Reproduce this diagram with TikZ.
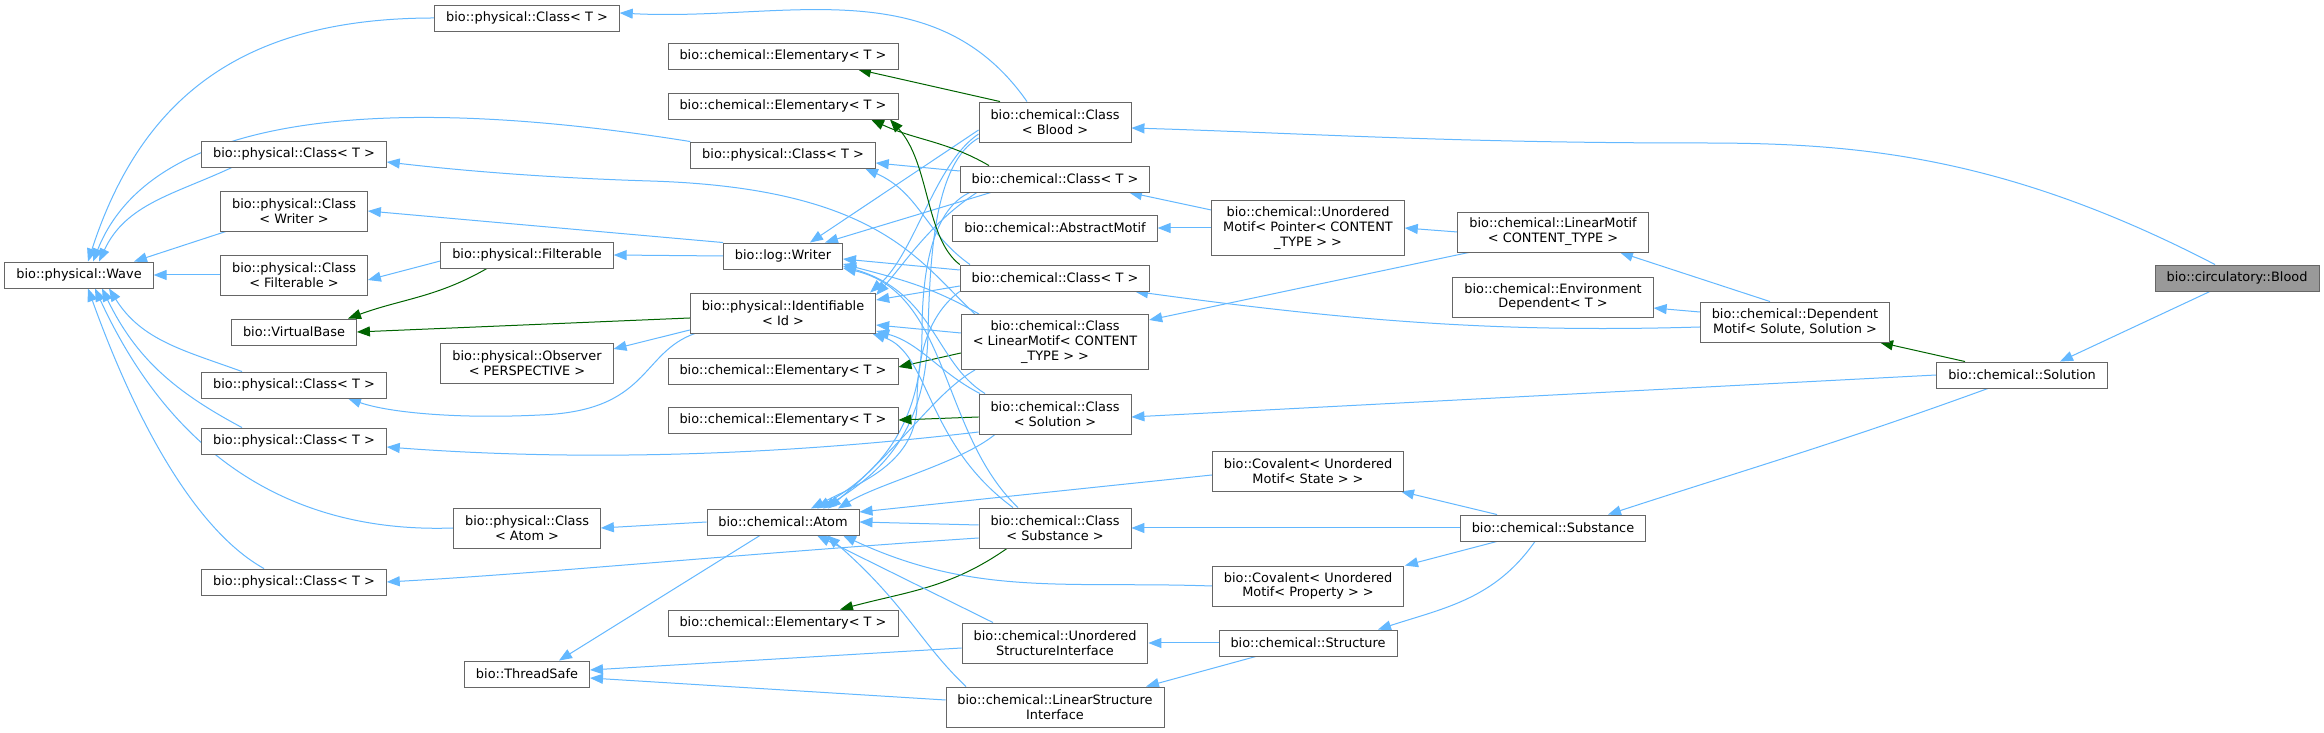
\documentclass[tikz,border=0pt]{standalone}
\usepackage{fontspec}
\setmainfont{DejaVu Sans}
\usetikzlibrary{arrows.meta,backgrounds}
\definecolor{edgeblue}{HTML}{63B8FF}
\definecolor{edgegreen}{HTML}{006400}
\definecolor{boxgray}{HTML}{666666}
\definecolor{focusgray}{HTML}{999999}
\tikzset{
  cls/.style={draw=boxgray, line width=0.9pt, fill=white, align=center,
    inner xsep=11.5pt, inner ysep=2pt, minimum height=26pt,
    font=\fontsize{12.9}{14.8}\selectfont},
  cls2/.style={cls, minimum height=40pt},
  cls3/.style={cls, minimum height=55pt},
  focus/.style={cls, fill=focusgray},
  pub/.style={draw=edgeblue, line width=1pt, -{Triangle[length=13pt,width=10pt]}},
  prot/.style={pub, draw=edgegreen},
}
\begin{document}
\begin{tikzpicture}[x=1pt,y=1pt]
\useasboundingbox (0,0) rectangle (2324,733);
\node [cls] (wave) at (79,458) {bio::physical::Wave};
\node [cls] (pcone) at (527,715) {bio::physical::Class< T >};
\node [cls] (pctwo) at (294,579) {bio::physical::Class< T >};
\node [cls2] (pcwriter) at (294,522) {bio::physical::Class\\< Writer >};
\node [cls2] (pcfilt) at (294,458) {bio::physical::Class\\< Filterable >};
\node [cls] (vbase) at (294,401) {bio::VirtualBase};
\node [cls] (pcthree) at (294,348) {bio::physical::Class< T >};
\node [cls] (pcfour) at (294,292) {bio::physical::Class< T >};
\node [cls] (pcsix) at (294,151) {bio::physical::Class< T >};
\node [cls] (filt) at (527,478) {bio::physical::Filterable};
\node [cls2] (observer) at (527,370) {bio::physical::Observer\\< PERSPECTIVE >};
\node [cls2] (pcatom) at (527,205) {bio::physical::Class\\< Atom >};
\node [cls] (tsafe) at (527,59) {bio::ThreadSafe};
\node [cls] (elemone) at (783,677) {bio::chemical::Elementary< T >};
\node [cls] (elemtwo) at (783,627) {bio::chemical::Elementary< T >};
\node [cls] (pcfive) at (783,578) {bio::physical::Class< T >};
\node [cls] (writer) at (783,477) {bio::log::Writer};
\node [cls2] (ident) at (783,420) {bio::physical::Identifiable\\< Id >};
\node [cls] (elemthree) at (783,362) {bio::chemical::Elementary< T >};
\node [cls] (elemfour) at (783,313) {bio::chemical::Elementary< T >};
\node [cls] (atom) at (783,211) {bio::chemical::Atom};
\node [cls] (elemfive) at (783,110) {bio::chemical::Elementary< T >};
\node [cls2] (clblood) at (1055,611) {bio::chemical::Class\\< Blood >};
\node [cls] (clone) at (1055,554) {bio::chemical::Class< T >};
\node [cls] (amotif) at (1055,505) {bio::chemical::AbstractMotif};
\node [cls] (cltwo) at (1055,455) {bio::chemical::Class< T >};
\node [cls3] (cllin) at (1055,391) {bio::chemical::Class\\< LinearMotif< CONTENT\\\_TYPE > >};
\node [cls2] (clsol) at (1055,319) {bio::chemical::Class\\< Solution >};
\node [cls2] (clsub) at (1055,205) {bio::chemical::Class\\< Substance >};
\node [cls2] (usi) at (1055,90) {bio::chemical::Unordered\\StructureInterface};
\node [cls2] (lsi) at (1055,26) {bio::chemical::LinearStructure\\Interface};
\node [cls3] (umotif) at (1308,505) {bio::chemical::Unordered\\Motif< Pointer< CONTENT\\\_TYPE > >};
\node [cls2] (covstate) at (1308,262) {bio::Covalent< Unordered\\Motif< State > >};
\node [cls2] (covprop) at (1308,147) {bio::Covalent< Unordered\\Motif< Property > >};
\node [cls] (strc) at (1308,90) {bio::chemical::Structure};
\node [cls2] (lmotif) at (1553,501) {bio::chemical::LinearMotif\\< CONTENT\_TYPE >};
\node [cls2] (envdep) at (1553,436) {bio::chemical::Environment\\Dependent< T >};
\node [cls] (subst) at (1553,205) {bio::chemical::Substance};
\node [cls2] (depmotif) at (1795,411) {bio::chemical::Dependent\\Motif< Solute, Solution >};
\node [cls] (solution) at (2022,358) {bio::chemical::Solution};
\node [focus] (blood) at (2237,455) {bio::circulatory::Blood};
\begin{pgfonlayer}{background}
\fill [white] (0,0) rectangle (2324,733);
\draw [pub] (pcone.west) to[out=180,in=72,looseness=1.1] ([xshift=9pt]wave.north);
\draw [pub] (pcfive.north west) .. controls (450,630) and (160,640) .. ([xshift=14pt]wave.north);
\draw [pub] ([xshift=-62pt]pctwo.south) to[out=-155,in=65] ([xshift=20pt]wave.north);
\draw [pub] ([xshift=-68pt]pcwriter.south) -- ([xshift=55pt]wave.north);
\draw [pub] (pcfilt.west) -- (wave.east);
\draw [pub] ([xshift=-52pt]pcthree.north) to[out=160,in=-58] ([xshift=30pt]wave.south);
\draw [pub] ([xshift=-52pt]pcfour.north) to[out=152,in=-64] ([xshift=23pt]wave.south);
\draw [pub] (pcatom.west) .. controls (310,200) and (180,260) .. ([xshift=16pt]wave.south);
\draw [pub] ([xshift=-30pt]pcsix.north) .. controls (200,200) and (140,300) .. ([xshift=9pt]wave.south);
\draw [pub] (writer.west) -- (filt.east);
\draw [pub] (writer.north west) -- (pcwriter.east);
\draw [pub] ([yshift=-6pt]filt.west) -- ([yshift=-5pt]pcfilt.east);
\draw [prot] ([xshift=-40pt]filt.south) to[out=-150,in=20] ([xshift=54pt]vbase.north);
\draw [prot] ([yshift=-5pt]ident.west) -- (vbase.east);
\draw [pub] ([yshift=-17pt]ident.west) -- ([yshift=14pt]observer.east);
\draw [pub] ([xshift=-88pt]ident.south) .. controls (640,380) and (650,322) .. (540,318) .. controls (460,314) and (390,320) .. ([xshift=54pt]pcthree.south);
\draw [pub] (atom.west) -- (pcatom.east);
\draw [pub] ([xshift=-23pt]atom.south) -- ([xshift=32pt]tsafe.north);
\draw [prot] ([xshift=-55pt]clblood.north) -- ([xshift=75pt]elemone.south);
\draw [pub] ([xshift=-28pt]clblood.north) to[out=125,in=-3] ([yshift=5pt]pcone.east);
\draw [pub] ([yshift=-8pt]clblood.west) -- ([xshift=27pt]writer.north);
\draw [pub] ([yshift=-12pt]clblood.west) .. controls (935,570) and (915,480) .. ([xshift=-6pt]ident.north east);
\draw [pub] ([yshift=-16pt]clblood.west) .. controls (935,570) and (930,480) .. (928,400) .. controls (926,300) and (880,260) .. ([xshift=40pt]atom.north);
\draw [pub] ([yshift=8pt]clone.west) -- ([yshift=-8pt]pcfive.east);
\draw [prot] ([xshift=-66pt]clone.north) to[out=150,in=-25] ([xshift=88pt]elemtwo.south);
\draw [pub] ([xshift=-64pt]clone.south) -- ([xshift=42pt]writer.north);
\draw [pub] ([xshift=-78pt]clone.south) .. controls (930,510) and (905,470) .. ([yshift=18pt]ident.east);
\draw [pub] ([xshift=-85pt]clone.south) .. controls (935,525) and (922,470) .. (922,400) .. controls (922,300) and (870,255) .. ([xshift=34pt]atom.north);
\draw [pub] ([xshift=-85pt]cltwo.north) .. controls (925,500) and (920,540) .. ([xshift=82pt]pcfive.south);
\draw [prot] (cltwo.north west) .. controls (925,495) and (930,570) .. ([xshift=107pt]elemtwo.south);
\draw [pub] ([yshift=8pt]cltwo.west) -- ([yshift=-3pt]writer.east);
\draw [pub] ([yshift=-8pt]cltwo.west) -- ([yshift=13pt]ident.east);
\draw [pub] (cltwo.south west) .. controls (930,420) and (917,380) .. (917,330) .. controls (917,270) and (860,250) .. ([xshift=28pt]atom.north);
\draw [pub] ([xshift=-80pt]cllin.north) .. controls (920,470) and (880,545) .. (650,552) .. controls (520,556) and (430,566) .. ([yshift=-8pt]pctwo.east);
\draw [prot] ([yshift=-11pt]cllin.west) -- ([yshift=4pt]elemthree.east);
\draw [pub] ([xshift=-76pt]cllin.north) to[out=150,in=-15] ([yshift=-8pt]writer.east);
\draw [pub] ([yshift=9pt]cllin.west) -- ([yshift=-12pt]ident.east);
\draw [pub] ([xshift=-80pt]cllin.south) .. controls (935,340) and (905,290) .. ([xshift=45pt]atom.north);
\draw [pub] ([yshift=-18pt]clsol.west) .. controls (800,280) and (600,270) .. ([yshift=-6pt]pcfour.east);
\draw [prot] ([yshift=-3pt]clsol.west) -- (elemfour.east);
\draw [pub] ([xshift=-70pt]clsol.north) .. controls (935,370) and (935,440) .. ([yshift=-10pt]writer.east);
\draw [pub] ([xshift=-75pt]clsol.north) .. controls (940,360) and (920,390) .. ([yshift=-18pt]ident.east);
\draw [pub] ([xshift=-60pt]clsol.south) .. controls (960,270) and (880,250) .. ([xshift=55pt]atom.north);
\draw [pub] ([yshift=-10pt]clsub.west) .. controls (750,180) and (550,160) .. (pcsix.east);
\draw [prot] ([xshift=-48pt]clsub.south) to[out=-145,in=15] ([xshift=57pt]elemfive.north);
\draw [pub] ([xshift=-37pt]clsub.north) .. controls (940,300) and (950,440) .. ([yshift=-12pt]writer.east);
\draw [pub] ([xshift=-42pt]clsub.north) .. controls (925,290) and (930,380) .. ([xshift=-4pt]ident.south east);
\draw [pub] ([yshift=3pt]clsub.west) -- (atom.east);
\draw [pub] ([yshift=-4pt]covstate.west) -- ([yshift=10pt]atom.east);
\draw [pub] (covprop.west) to[out=178,in=-25] ([xshift=60pt]atom.south);
\draw [pub] ([xshift=-62pt]usi.north) -- ([xshift=34pt]atom.south);
\draw [pub] ([xshift=-89pt]lsi.north) .. controls (920,90) and (905,130) .. ([xshift=44pt]atom.south);
\draw [pub] ([yshift=-5pt]usi.west) -- ([yshift=4pt]tsafe.east);
\draw [pub] ([yshift=7pt]lsi.west) -- ([yshift=-4pt]tsafe.east);
\draw [pub] (lmotif.west) -- (umotif.east);
\draw [pub] ([xshift=-84pt]lmotif.south) -- ([yshift=22pt]cllin.east);
\draw [pub] (umotif.west) -- (amotif.east);
\draw [pub] ([yshift=18pt]umotif.west) -- ([xshift=74pt]clone.south);
\draw [pub] ([xshift=-25pt]depmotif.north) -- ([xshift=67pt]lmotif.south);
\draw [pub] ([yshift=10pt]depmotif.west) -- ([yshift=-11pt]envdep.east);
\draw [pub] ([yshift=-5pt]depmotif.west) .. controls (1500,400) and (1350,412) .. ([xshift=80pt]cltwo.south);
\draw [pub] ([xshift=-56pt]subst.north) -- ([xshift=93pt]covstate.south);
\draw [pub] (subst.west) -- (clsub.east);
\draw [pub] ([xshift=-56pt]subst.south) -- ([xshift=97pt]covprop.north);
\draw [pub] ([xshift=-18pt]subst.south) to[out=-125,in=18] ([xshift=70pt]strc.north);
\draw [pub] (strc.west) -- (usi.east);
\draw [pub] ([xshift=-52pt]strc.south) -- ([xshift=91pt]lsi.north);
\draw [prot] ([xshift=-57pt]solution.north) -- ([xshift=85pt]depmotif.south);
\draw [pub] (solution.west) -- ([yshift=-3pt]clsol.east);
\draw [pub] ([xshift=-34pt]solution.south) to[out=-160,in=18] ([xshift=55pt]subst.north);
\draw [pub] ([xshift=-22pt]blood.north) .. controls (2000,580) and (1850,590) .. (1700,590) .. controls (1450,590) and (1300,600) .. ([yshift=-6pt]clblood.east);
\draw [pub] ([xshift=-27pt]blood.south) -- ([xshift=38pt]solution.north);
\end{pgfonlayer}
\end{tikzpicture}
\end{document}
